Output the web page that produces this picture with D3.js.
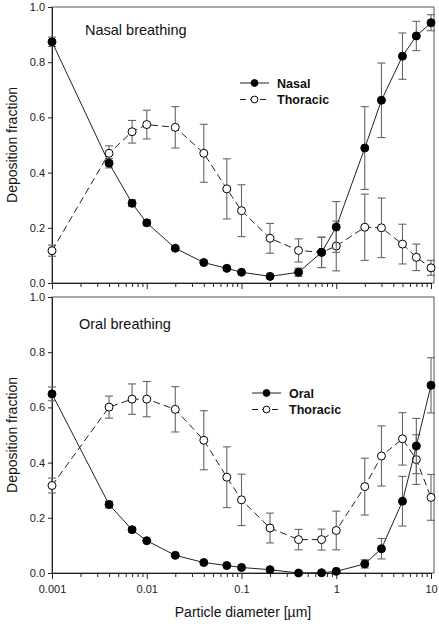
<!DOCTYPE html>
<html><head><meta charset="utf-8">
<script src="https://cdn.jsdelivr.net/npm/d3@7/dist/d3.min.js"></script>
<style>body{margin:0;background:#fff}svg{display:block}text{font-family:Arial,"Liberation Sans",sans-serif}</style>
</head><body><svg id="c" width="439" height="624"></svg>
<script>
const diameters = [0.001,0.004,0.007,0.01,0.02,0.04,0.07,0.1,0.2,0.4,0.7,1,2,3,5,7,10];
const nasalVal   = [0.874,0.434,0.289,0.218,0.126,0.074,0.053,0.039,0.024,0.039,0.111,0.203,0.489,0.662,0.822,0.895,0.943];
const nasalErr   = [0.017,0.017,0.012,0.010,0.006,0.005,0.004,0.004,0.004,0.015,0.055,0.092,0.150,0.135,0.084,0.053,0.029];
const nasalThorVal = [0.117,0.470,0.548,0.574,0.564,0.470,0.341,0.262,0.162,0.118,0.111,0.134,0.202,0.200,0.141,0.093,0.055];
const nasalThorErr = [0.020,0.027,0.041,0.052,0.075,0.105,0.109,0.094,0.054,0.042,0.055,0.090,0.120,0.108,0.072,0.048,0.027];
const oralVal   = [0.649,0.248,0.157,0.117,0.064,0.038,0.027,0.020,0.012,0.000,0.001,0.006,0.033,0.088,0.260,0.460,0.680];
const oralErr   = [0.025,0.012,0.008,0.006,0.004,0.004,0.003,0.003,0.003,0.002,0.002,0.004,0.015,0.037,0.090,0.100,0.100];
const oralThorVal = [0.317,0.601,0.630,0.630,0.593,0.481,0.347,0.265,0.163,0.121,0.121,0.154,0.313,0.424,0.486,0.411,0.274];
const oralThorErr = [0.027,0.040,0.055,0.064,0.082,0.107,0.110,0.093,0.054,0.037,0.038,0.070,0.103,0.109,0.095,0.090,0.083];
const yTicks = [0,0.2,0.4,0.6,0.8,1.0];
const xTickLabels = ["0.001","0.01","0.1","1","10"];

const svg = d3.select("#c");
const x = d3.scaleLog().domain([0.001,10]).range([52,431]);
const frameRight = 434;

const panels = [
  {top:7, bottom:283, title:"Nasal breathing", tx:85, ty:35, names:["Nasal","Thoracic"],
   filled:nasalVal, filledErr:nasalErr, open:nasalThorVal, openErr:nasalThorErr,
   lx:240, ly:83, showX:false},
  {top:297, bottom:573, title:"Oral breathing", tx:79, ty:329, names:["Oral","Thoracic"],
   filled:oralVal, filledErr:oralErr, open:oralThorVal, openErr:oralThorErr,
   lx:252, ly:393, showX:true}
];

const minorTicks = [];
for (let e=-3; e<1; e++) for (let m=1; m<10; m++) minorTicks.push(m*Math.pow(10,e));
minorTicks.push(10);

panels.forEach(p => {
  const y = d3.scaleLinear().domain([0,1]).range([p.bottom,p.top]);
  const g = svg.append("g");
  g.append("rect").attr("x",52).attr("y",p.top).attr("width",frameRight-52).attr("height",p.bottom-p.top)
    .attr("fill","none").attr("stroke","#555").attr("stroke-width",1);
  const ya = d3.axisLeft(y).tickValues(yTicks).tickFormat(d3.format(".1f")).tickSize(4).tickPadding(3);
  g.append("g").attr("transform","translate(52,0)").call(ya)
    .call(s=>{s.select(".domain").attr("stroke","#222");s.selectAll("line").attr("stroke","#222");
      s.selectAll("text").attr("font-size",11).attr("fill","#222").style("font-family","Arial, 'Liberation Sans', sans-serif");});
  const xa = d3.axisBottom(x).tickValues(minorTicks).tickSize(0).tickFormat("");
  const xg = g.append("g").attr("transform",`translate(0,${p.bottom})`).call(xa);
  xg.select(".domain").attr("stroke","#222");
  xg.selectAll(".tick line").attr("y2", d => (Math.abs(Math.log10(d)-Math.round(Math.log10(d)))<1e-9)?6:4).attr("stroke","#222");
  if (p.showX) {
    xg.selectAll(".tick").filter(d => Math.abs(Math.log10(d)-Math.round(Math.log10(d)))<1e-9)
      .append("text").attr("y",20).attr("text-anchor","middle").attr("font-size",11).attr("fill","#222")
      .text(d => xTickLabels[Math.round(Math.log10(d))+3]);
  }
  g.append("text").attr("transform",`translate(17,${(p.top+p.bottom)/2}) rotate(-90)`)
    .attr("text-anchor","middle").attr("font-size",14).attr("fill","#111").text("Deposition fraction");
  g.append("text").attr("x",p.tx).attr("y",p.ty).attr("font-size",14.5).attr("fill","#111").text(p.title);

  const series = [
    {vals:p.open, errs:p.openErr, fill:"#fff", dash:"7,4"},
    {vals:p.filled, errs:p.filledErr, fill:"#000", dash:null}
  ];
  series.forEach(s => {
    const pts = diameters.map((d,i)=>({d, v:s.vals[i], e:s.errs[i]}));
    const eg = g.append("g").attr("stroke","#666").attr("stroke-width",1.1);
    pts.forEach(q => {
      if (q.e < 0.008) return;
      const cx = x(q.d);
      eg.append("line").attr("x1",cx).attr("x2",cx).attr("y1",y(q.v+q.e)).attr("y2",y(q.v-q.e));
      eg.append("line").attr("x1",cx-4).attr("x2",cx+4).attr("y1",y(q.v+q.e)).attr("y2",y(q.v+q.e));
      eg.append("line").attr("x1",cx-4).attr("x2",cx+4).attr("y1",y(q.v-q.e)).attr("y2",y(q.v-q.e));
    });
    g.append("path").datum(pts).attr("fill","none").attr("stroke","#222").attr("stroke-width",1)
      .attr("stroke-dasharray",s.dash)
      .attr("d", d3.line().x(q=>x(q.d)).y(q=>y(q.v)));
    g.append("g").selectAll("circle").data(pts).join("circle")
      .attr("cx",q=>x(q.d)).attr("cy",q=>y(q.v)).attr("r",4)
      .attr("fill",s.fill).attr("stroke","#000").attr("stroke-width",1);
  });
  const lg = g.append("g").attr("transform",`translate(${p.lx},${p.ly})`);
  lg.append("line").attr("x1",0).attr("x2",29).attr("y1",0).attr("y2",0).attr("stroke","#222");
  lg.append("circle").attr("cx",14.5).attr("cy",0).attr("r",3.4).attr("fill","#000").attr("stroke","#000");
  lg.append("text").attr("x",37).attr("y",4.5).attr("font-size",12.5).attr("font-weight","bold").attr("fill","#111").text(p.names[0]);
  lg.append("line").attr("x1",0).attr("x2",29).attr("y1",16.5).attr("y2",16.5).attr("stroke","#222").attr("stroke-dasharray","6,4");
  lg.append("circle").attr("cx",14.5).attr("cy",16.5).attr("r",3.4).attr("fill","#fff").attr("stroke","#000");
  lg.append("text").attr("x",37).attr("y",21).attr("font-size",12.5).attr("font-weight","bold").attr("fill","#111").text(p.names[1]);
});

svg.append("text").attr("x",243).attr("y",617).attr("text-anchor","middle").attr("font-size",14).attr("fill","#111")
  .text("Particle diameter [µm]");
</script></body></html>
